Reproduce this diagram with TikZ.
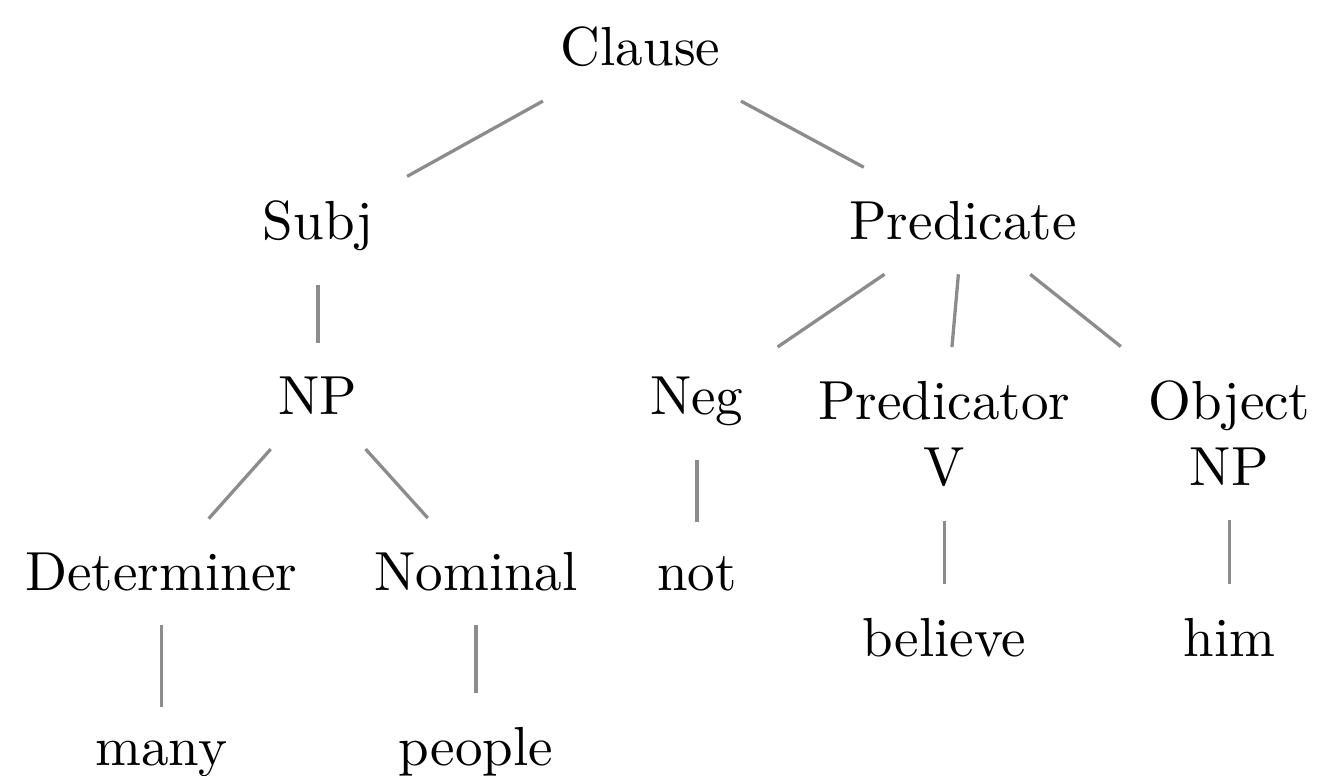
\documentclass[tikz,border=0pt]{standalone}
\begin{document}
\begin{tikzpicture}[
    cat/.style={inner sep=6pt, anchor=base, align=center},
    branch/.style={draw=black!45, line width=0.6pt}]
    \useasboundingbox (0,0) rectangle (8.41,-4.95);
    % Clause e figli
    \node[cat] (clause) at (4.09,-0.42) {Clause};
    \node[cat] (subj) at (2.03,-1.53) {Subj};
    \node[cat] (pred) at (6.15,-1.53) {Predicate};
    % Terzo livello (base = ultima riga)
    \node[cat] (np) at (2.03,-2.65) {NP};
    \node[cat] (neg) at (4.45,-2.65) {Neg};
    \node[cat] (predv) at (6.03,-3.10) {Predicator\\V};
    \node[cat] (objnp) at (7.85,-3.10) {Object\\NP};
    % Quarto livello
    \node[cat] (det) at (1.03,-3.77) {Determiner};
    \node[cat] (nom) at (3.04,-3.77) {Nominal};
    \node[cat] (not) at (4.45,-3.77) {not};
    \node[cat] (believe) at (6.03,-4.19) {believe};
    \node[cat] (him) at (7.85,-4.19) {him};
    \node[cat] (many) at (1.03,-4.89) {many};
    \node[cat] (people) at (3.04,-4.89) {people};
    % Rami
    \draw[branch] (clause) -- (subj);
    \draw[branch] (clause) -- (pred);
    \draw[branch] (subj) -- (np);
    \draw[branch] (pred) -- (neg);
    \draw[branch] (pred) -- (predv);
    \draw[branch] (pred) -- (objnp);
    \draw[branch] (np) -- (det);
    \draw[branch] (np) -- (nom);
    \draw[branch] (neg) -- (not);
    \draw[branch] (predv) -- (believe);
    \draw[branch] (objnp) -- (him);
    \draw[branch] (det) -- (many);
    \draw[branch] (nom) -- (people);
\end{tikzpicture}
\end{document}
